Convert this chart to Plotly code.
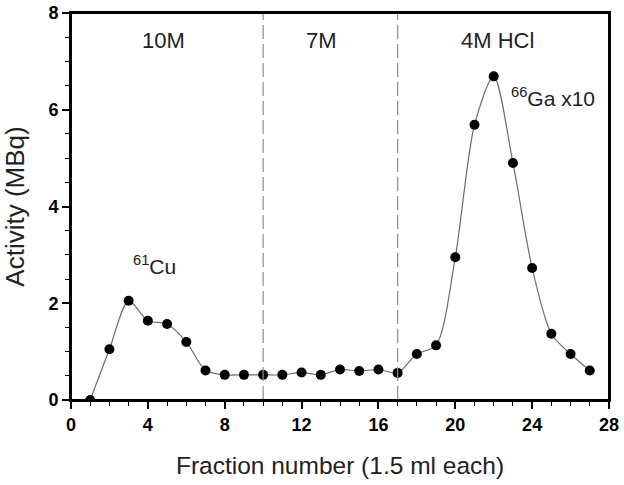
import plotly.graph_objects as go

# Fraction number vs activity
fractions = list(range(1, 28))
activity = [0.0, 1.05, 2.05, 1.64, 1.57, 1.20, 0.61, 0.52, 0.52, 0.52,
            0.52, 0.57, 0.52, 0.63, 0.60, 0.63, 0.56, 0.95, 1.13, 2.95,
            5.69, 6.69, 4.90, 2.73, 1.37, 0.95, 0.61]

# eluent change boundaries
boundaries = [10, 17]

# eluent labels
eluent_text = ["10M", "7M", "4M HCl"]
eluent_x = [4.8, 13.05, 22.2]
eluent_y = [7.44, 7.44, 7.44]

# isotope labels
iso_text = ["<sup>61</sup>Cu", "<sup>66</sup>Ga x10"]
iso_x = [4.37, 25.1]
iso_y = [2.79, 6.26]

FONT = "Liberation Sans, Arial, sans-serif"

fig = go.Figure()

fig.add_trace(go.Scatter(
    x=fractions, y=activity,
    mode="lines+markers",
    line=dict(color="#6e6e6e", width=1.2, shape="spline", smoothing=0.8),
    marker=dict(color="black", size=10),
    showlegend=False
))

for b in boundaries:
    fig.add_vline(x=b, line=dict(color="#8c8c8c", width=1.2, dash="14px,5px"))

# frame around the plot area
fig.add_shape(type="rect", xref="paper", yref="paper", x0=0, x1=1, y0=0, y1=1,
              line=dict(color="black", width=2), layer="above")

for t, x, y in zip(eluent_text, eluent_x, eluent_y):
    fig.add_annotation(x=x, y=y, text=t, showarrow=False,
                       font=dict(family=FONT, size=22, color="#222"))

for t, x, y in zip(iso_text, iso_x, iso_y):
    fig.add_annotation(x=x, y=y, text=t, showarrow=False,
                       font=dict(family=FONT, size=21, color="#222"))

fig.update_xaxes(
    range=[0, 28], dtick=4, tick0=0,
    ticks="outside", ticklen=7, tickwidth=1.5, tickcolor="black",
    minor=dict(dtick=1, ticks="outside", ticklen=4, tickwidth=1.2, tickcolor="black"),
    showline=True, linecolor="black", linewidth=2, mirror=True,
    showgrid=False, zeroline=False, automargin=False, ticklabeloverflow="allow",
    tickfont=dict(family=FONT, size=18, color="black", weight="bold"),
    title=dict(text="Fraction number (1.5 ml each)", standoff=23,
               font=dict(family=FONT, size=24.5, color="#222"))
)
fig.update_yaxes(
    range=[0, 8], dtick=2, tick0=0,
    ticks="outside", ticklen=7, tickwidth=1.5, tickcolor="black",
    minor=dict(dtick=0.5, ticks="outside", ticklen=4, tickwidth=1.2, tickcolor="black"),
    showline=True, linecolor="black", linewidth=2, mirror=True,
    showgrid=False, zeroline=False, automargin=False, ticklabeloverflow="allow",
    tickfont=dict(family=FONT, size=18, color="black", weight="bold"),
    title=dict(text="Activity (MBq)", standoff=16,
               font=dict(family=FONT, size=26, color="#222"))
)

fig.update_layout(
    width=624, height=485,
    margin=dict(l=71, r=15, t=13, b=85),
    plot_bgcolor="white", paper_bgcolor="white",
    font=dict(family=FONT)
)

# drop the default body margin so the figure sits at the window's corner
fig.write_html("out.html", config={"displayModeBar": False},
               post_script="document.body.style.margin='0';")
